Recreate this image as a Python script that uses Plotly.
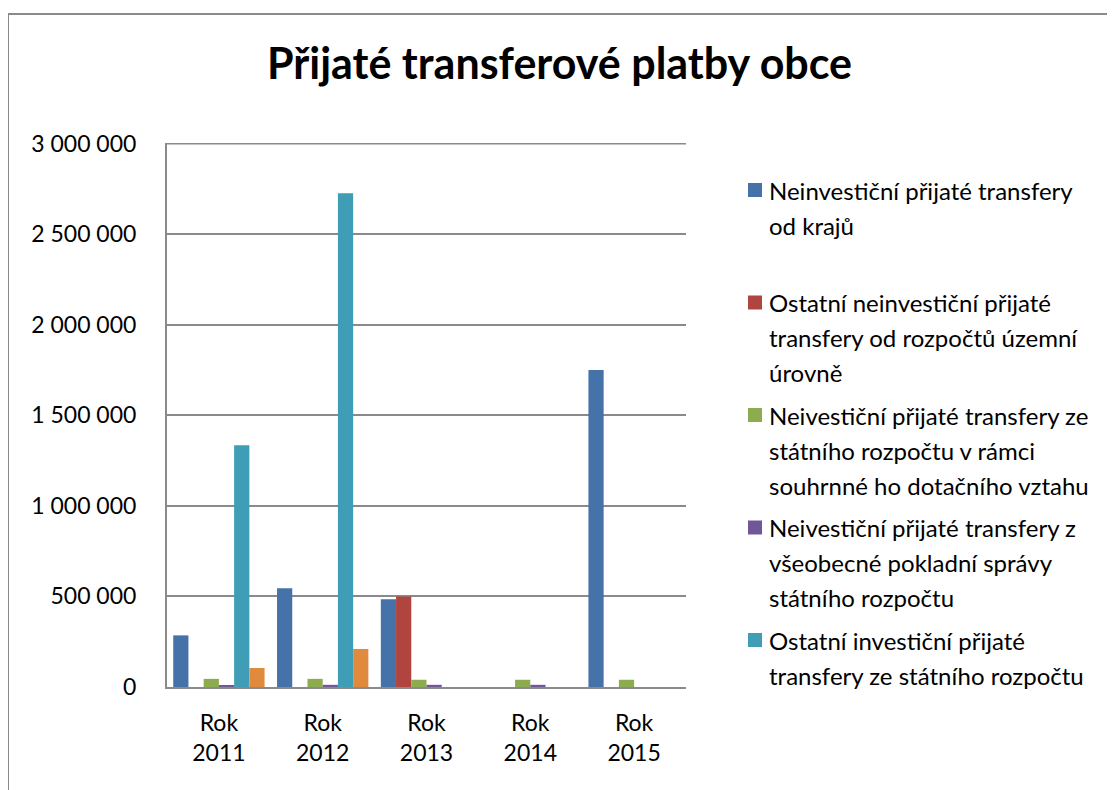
import plotly.graph_objects as go

categories = ["Rok<br>2011", "Rok<br>2012", "Rok<br>2013", "Rok<br>2014", "Rok<br>2015"]

series_names = [
    "Neinvestiční přijaté transfery od krajů",
    "Ostatní neinvestiční přijaté transfery od rozpočtů územní úrovně",
    "Neivestiční přijaté transfery ze státního rozpočtu v rámci souhrnné ho dotačního vztahu",
    "Neivestiční přijaté transfery z všeobecné pokladní správy státního rozpočtu",
    "Ostatní investiční přijaté transfery ze státního rozpočtu",
    "Ostatní investiční přijaté transfery",
]

# legend text as wrapped in the reference (orange series not shown in legend)
legend_lines = [
    ["Neinvestiční přijaté transfery", "od krajů"],
    ["Ostatní neinvestiční přijaté", "transfery od rozpočtů územní", "úrovně"],
    ["Neivestiční přijaté transfery ze", "státního rozpočtu v rámci", "souhrnné ho dotačního vztahu"],
    ["Neivestiční přijaté transfery z", "všeobecné pokladní správy", "státního rozpočtu"],
    ["Ostatní investiční přijaté", "transfery ze státního rozpočtu"],
]

blue_vals = [285000, 545000, 485000, 0, 1750000]
red_vals = [0, 0, 500000, 0, 0]
green_vals = [45000, 45000, 40000, 40000, 40000]
purple_vals = [8000, 12000, 12000, 12000, 0]
teal_vals = [1335000, 2725000, 0, 0, 0]
orange_vals = [105000, 210000, 0, 0, 0]

colors = ["#4672aa", "#b0443f", "#8cac4f", "#71579a", "#3f9db6", "#e08a3e"]

tick_vals = [0, 500000, 1000000, 1500000, 2000000, 2500000, 3000000]
tick_text = ["0", "500 000", "1 000 000", "1 500 000", "2 000 000", "2 500 000", "3 000 000"]

all_vals = [blue_vals, red_vals, green_vals, purple_vals, teal_vals, orange_vals]

FONT = "Lato"
OFF = 8  # page body margin offset
W, H = 1115 - OFF, 790 - OFF
L, R, T, B = 167 - OFF, 429, 143 - OFF, 103
PW, PH = W - L - R, H - T - B


def px_x(px):
    # screen pixel -> paper x
    return (px - OFF - L) / PW


def px_y(py):
    # screen pixel -> paper y
    return ((H - B) - (py - OFF)) / PH


fig = go.Figure()
for name, vals, col in zip(series_names, all_vals, colors):
    fig.add_trace(go.Bar(
        x=categories, y=vals, name=name, marker_color=col,
        marker_line_width=0, showlegend=False,
    ))

fig.update_layout(
    width=W, height=H,
    margin=dict(l=L, r=R, t=T, b=B),
    paper_bgcolor="white", plot_bgcolor="white",
    barmode="group", bargap=0.12, bargroupgap=0,
    font=dict(family=FONT, color="black"),
    title=dict(
        text="<b>Přijaté transferové platby obce</b>",
        xref="paper", x=px_x(559.5), xanchor="center",
        y=1 - (64 - OFF) / H, yanchor="middle",
        font=dict(family=FONT, size=43, color="black"),
    ),
    showlegend=False,
)

fig.update_yaxes(
    range=[0, 3003000], tickvals=tick_vals, ticktext=tick_text,
    showgrid=True, gridcolor="#8a8a8a", gridwidth=2,
    showline=True, linecolor="#8a8a8a", linewidth=2,
    zeroline=False, ticks="", ticklabelstandoff=24,
    tickfont=dict(family=FONT, size=23, color="black"),
)
fig.update_xaxes(
    showline=True, linecolor="#8a8a8a", linewidth=2,
    showgrid=False, ticks="", ticklabelstandoff=14,
    tickfont=dict(family=FONT, size=23, color="black"),
)

shapes = []
annotations = []
# chart frame
shapes.append(dict(type="rect", xref="paper", yref="paper",
                   x0=px_x(8), x1=px_x(1135), y0=px_y(810), y1=px_y(14),
                   line=dict(color="#8a8a8a", width=2), fillcolor="rgba(0,0,0,0)",
                   layer="below"))
# top gridline at the axis maximum
shapes.append(dict(type="line", xref="paper", yref="y",
                   x0=0, x1=1, y0=tick_vals[-1], y1=tick_vals[-1],
                   line=dict(color="#8a8a8a", width=2), layer="below"))

# manual legend
for i, lines in enumerate(legend_lines):
    top = 190 + i * 112.5
    shapes.append(dict(type="rect", xref="paper", yref="paper",
                       x0=px_x(748), x1=px_x(762), y0=px_y(top + 7), y1=px_y(top - 7),
                       fillcolor=colors[i], line=dict(width=0)))
    for j, line in enumerate(lines):
        annotations.append(dict(
            text=line, xref="paper", yref="paper",
            x=px_x(767), y=px_y(top + j * 35), xanchor="left", yanchor="middle",
            showarrow=False, font=dict(family=FONT, size=24, color="black"),
        ))

fig.update_layout(shapes=shapes, annotations=annotations)

fig.write_html("out.html")
